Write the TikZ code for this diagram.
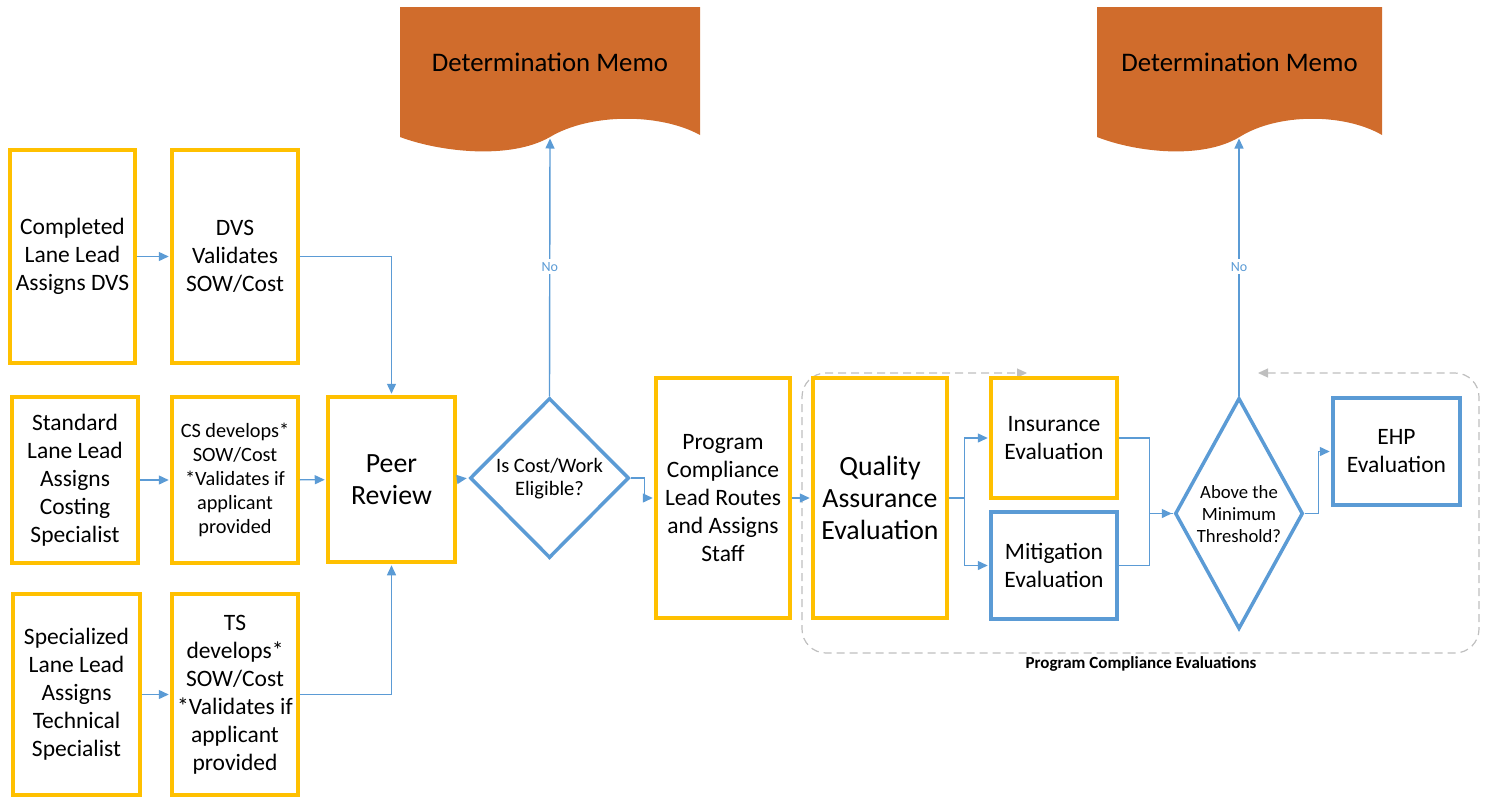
\documentclass[tikz,border=0pt]{standalone}
\usepackage{fontspec}
\setmainfont{Carlito}
\usetikzlibrary{shapes.geometric,arrows.meta}
\definecolor{ybord}{HTML}{FFC000}
\definecolor{bbord}{HTML}{5B9BD5}
\definecolor{memo}{HTML}{D06C2C}
\definecolor{dgray}{HTML}{BFBFBF}
\begin{document}
\begin{tikzpicture}[x=1pt,y=-1pt,
  ybox/.style={draw=ybord, line width=3.5pt, fill=white, inner sep=0pt, align=center, font=\fontsize{23.5}{28}\selectfont},
  bbox/.style={ybox, draw=bbord},
  dia/.style={diamond, draw=bbord, line width=3.5pt, fill=white, inner sep=0pt},
  conn/.style={draw=bbord, line width=1.4pt, -{Triangle[length=10pt,width=9pt]}, shorten >=1.5pt},
  plainline/.style={draw=bbord, line width=1.4pt},
  nolab/.style={fill=white, text=bbord, inner sep=3pt, font=\fontsize{14}{16}\selectfont},
  memotext/.style={font=\fontsize{26.8}{32}\selectfont, text=black},
  grp/.style={draw=dgray, line width=1.2pt, dash pattern=on 8pt off 5pt, rounded corners=24pt, {Triangle[length=10pt,width=9pt]}-{Triangle[length=10pt,width=9pt]}}
]
\useasboundingbox (0,0) rectangle (1488,798);

% Determination memo documents
\fill[memo] (400,7) -- (700,7) -- (700,135) .. controls (660,113) and (590,113) .. (550,137) .. controls (510,160) and (440,152) .. (400,137) -- cycle;
\node[memotext] (m1) at (550,62) {Determination Memo};
\coordinate (m1b) at (550,137);

\fill[memo] (1097,7) -- (1382,7) -- (1382,135) .. controls (1344,113) and (1277.5,113) .. (1239.5,137) .. controls (1201.5,160) and (1135,152) .. (1097,137) -- cycle;
\node[memotext] (m2) at (1239.5,62) {Determination Memo};
\coordinate (m2b) at (1239,137);

% group container
\draw[grp] (1258,373) -- (1479,373) -- (1479,653) -- (802,653) -- (802,373) -- (1027,373);
\node[font=\bfseries\fontsize{17}{20}\selectfont] (grplab) at (1141,664) {Program Compliance Evaluations};

% left boxes
\node[ybox, minimum width=125pt, minimum height=213pt] (a) at (72.5,256.5) {Completed\\Lane Lead\\Assigns DVS};
\node[ybox, minimum width=126pt, minimum height=213pt] (b) at (235,256.5) {DVS\\Validates\\SOW/Cost};
\node[ybox, minimum width=126pt, minimum height=166pt] (c) at (75,480) {Standard\\Lane Lead\\Assigns\\Costing\\Specialist};
\node[ybox, minimum width=126pt, minimum height=166pt, font=\fontsize{20.3}{24}\selectfont] (d) at (235,480) {CS develops*\\SOW/Cost\\*Validates if\\applicant\\provided};
\node[ybox, minimum width=127pt, minimum height=201pt] (e) at (76.5,694.5) {Specialized\\Lane Lead\\Assigns\\Technical\\Specialist};
\node[ybox, minimum width=126pt, minimum height=201pt] (f) at (235,694.5) {TS\\develops*\\SOW/Cost\\*Validates if\\applicant\\provided};

\node[ybox, minimum width=127pt, minimum height=165pt, font=\fontsize{27.8}{32}\selectfont] (peer) at (391.5,479.5) {Peer\\Review};

\node[dia, minimum width=159pt, minimum height=160pt] (d1) at (549.5,478) {};
\node[font=\fontsize{20.5}{23}\selectfont, align=center] (d1t) at (549.5,479) {Is Cost/Work\\Eligible?};

\node[ybox, minimum width=134pt, minimum height=240pt] (pc) at (723,498) {Program\\Compliance\\Lead Routes\\and Assigns\\Staff};
\node[ybox, minimum width=134pt, minimum height=240pt, font=\fontsize{27.8}{32}\selectfont] (qa) at (880,498) {Quality\\Assurance\\Evaluation};

\node[ybox, minimum width=126pt, minimum height=120pt] (ins) at (1054,438) {Insurance\\Evaluation};
\node[bbox, minimum width=126pt, minimum height=107pt] (mit) at (1054,565.5) {Mitigation\\Evaluation};

\node[dia, minimum width=128pt, minimum height=231pt] (d2) at (1239,513.5) {};
\node[font=\fontsize{18.7}{22}\selectfont, align=center] (d2t) at (1239,514) {Above the\\Minimum\\Threshold?};

\node[bbox, minimum width=127pt, minimum height=107pt] (ehp) at (1396.5,451.5) {EHP\\Evaluation};

% connectors
\draw[conn] (a) -- (b);
\draw[conn] (c) -- (d);
\draw[conn] (e) -- (f);
\draw[conn] (b.east) -| (peer.north);
\draw[conn] (d) -- (peer);
\draw[conn] (f.east) -| (peer.south);
\draw[conn] (peer.east) -- (d1.west);
\draw[conn] (d1.north) -- node[nolab] {No} (m1b);
\draw[conn] (d1.east) -- ++(14,0) |- (pc.west);
\draw[conn] (pc.east) -- (qa.west |- pc.east);
\draw[conn] (qa.east) -- ++(16,0) |- (ins.west);
\draw[conn] (qa.east) -- ++(16,0) |- (mit.west);
\draw[plainline] (ins.east) -- ++(31,0) |- (d2.west);
\draw[conn] (mit.east) -- ++(31,0) |- (d2.west);
\draw[conn] (d2.north) -- node[nolab] {No} (m2b);
\draw[conn] (d2.east) -- ++(14,0) |- (ehp.west);
\end{tikzpicture}
\end{document}
